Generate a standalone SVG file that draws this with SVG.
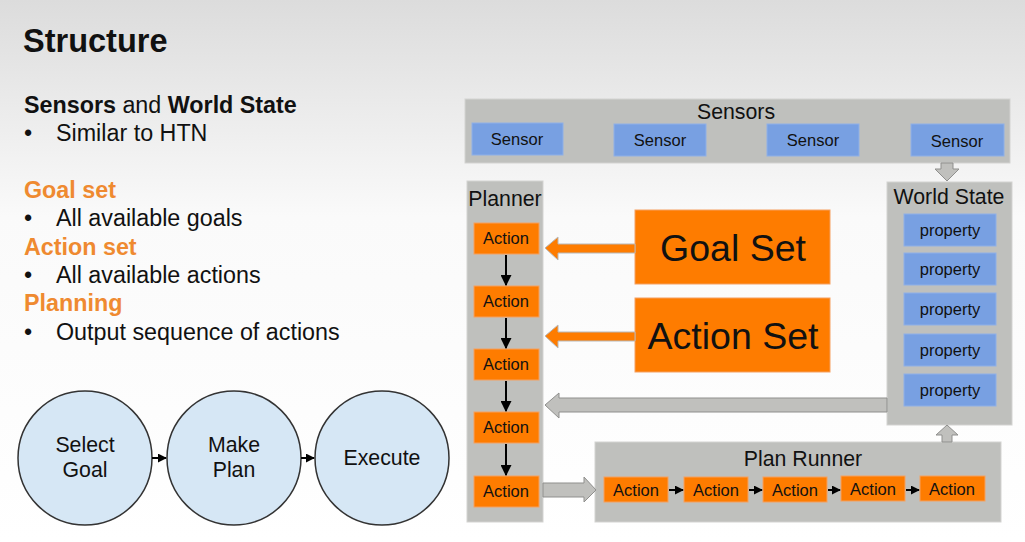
<svg xmlns="http://www.w3.org/2000/svg" width="1025" height="542" viewBox="0 0 1025 542">
<defs>
<linearGradient id="bg" x1="0" y1="0" x2="0" y2="1">
<stop offset="0" stop-color="#dcdcdc"/>
<stop offset="0.4" stop-color="#fafafa"/>
<stop offset="1" stop-color="#ffffff"/>
</linearGradient>
<marker id="ah" viewBox="0 0 10 10" refX="9" refY="5" markerWidth="4.5" markerHeight="4.5" orient="auto">
<path d="M0,0 L10,5 L0,10 z" fill="#000"/>
</marker>
<marker id="ahb" viewBox="0 0 10 10" refX="9" refY="5" markerWidth="5.5" markerHeight="5.5" orient="auto">
<path d="M0,0 L10,5 L0,10 z" fill="#000"/>
</marker>
<style>
text{font-family:"Liberation Sans",Arial,sans-serif;fill:#111}
.panel{fill:#bfc0bd;stroke:#d3d3d1;stroke-width:1}
.blue{fill:#78a0e2;stroke:#8fb0e8;stroke-width:1}
.org{fill:#fe7c00;stroke:#f5a060;stroke-width:1}
.circ{fill:#d6e7f5;stroke:#333;stroke-width:1.5}
.t14{font-size:16.5px;text-anchor:middle}
.t20{font-size:21.3px;text-anchor:middle}
.big{font-size:37.5px;text-anchor:middle}
.conn{stroke:#000;stroke-width:2;fill:none;marker-end:url(#ah)}
.connb{stroke:#000;stroke-width:2;fill:none;marker-end:url(#ahb)}
.garr{fill:#c0c0bd;stroke:#8f8f8d;stroke-width:1}
.oarr{fill:#fe7c00;stroke:#b8b8b8;stroke-width:1}
.lt{font-size:23.3px}
.hd{font-size:23.3px;font-weight:bold;fill:#ef8a30}
</style>
</defs>
<rect width="1025" height="542" fill="url(#bg)"/>
<g id="text-left">
<text x="23" y="52" style="font-size:32.5px;font-weight:bold">Structure</text>
<text x="24" y="113" class="lt"><tspan font-weight="bold">Sensors</tspan> and <tspan font-weight="bold">World State</tspan></text>
<text x="24" y="141" class="lt">•</text><text x="56" y="141" class="lt">Similar to HTN</text>
<text x="24" y="198" class="hd">Goal set</text>
<text x="24" y="226" class="lt">•</text><text x="56" y="226" class="lt">All available goals</text>
<text x="24" y="255" class="hd">Action set</text>
<text x="24" y="283" class="lt">•</text><text x="56" y="283" class="lt">All available actions</text>
<text x="24" y="311" class="hd">Planning</text>
<text x="24" y="340" class="lt">•</text><text x="56" y="340" class="lt">Output sequence of actions</text>
</g>
<g id="sensors">
<rect x="465" y="99" width="545" height="64" class="panel"/>
<text x="736" y="119" class="t20">Sensors</text>
<rect x="472" y="123" width="91" height="32" class="blue"/><text x="517" y="145" class="t14">Sensor</text>
<rect x="614" y="124" width="92" height="32" class="blue"/><text x="660" y="146" class="t14">Sensor</text>
<rect x="767" y="124" width="92" height="32" class="blue"/><text x="813" y="146" class="t14">Sensor</text>
<rect x="911" y="124" width="93" height="32" class="blue"/><text x="957" y="147" class="t14">Sensor</text>
</g>
<g id="world-state">
<rect x="887" y="182" width="125" height="243" class="panel"/>
<text x="949" y="204" class="t20">World State</text>
<rect x="904" y="214" width="92" height="32" class="blue"/><text x="950" y="236" class="t14">property</text>
<rect x="904" y="253" width="92" height="32" class="blue"/><text x="950" y="275" class="t14">property</text>
<rect x="904" y="293" width="92" height="32" class="blue"/><text x="950" y="315" class="t14">property</text>
<rect x="904" y="334" width="92" height="32" class="blue"/><text x="950" y="356" class="t14">property</text>
<rect x="904" y="374" width="92" height="32" class="blue"/><text x="950" y="396" class="t14">property</text>
</g>
<g id="planner">
<rect x="467" y="181" width="76" height="341" class="panel"/>
<text x="505" y="206" class="t20">Planner</text>
<rect x="474" y="223" width="65" height="31" class="org"/><text x="506" y="244" class="t14">Action</text>
<rect x="474" y="286" width="65" height="31" class="org"/><text x="506" y="307" class="t14">Action</text>
<rect x="474" y="349" width="65" height="31" class="org"/><text x="506" y="370" class="t14">Action</text>
<rect x="474" y="412" width="65" height="31" class="org"/><text x="506" y="433" class="t14">Action</text>
<rect x="474" y="476" width="65" height="31" class="org"/><text x="506" y="497" class="t14">Action</text>
</g>
<g id="goal-set">
<rect x="635" y="210" width="195" height="74" class="org"/>
<text x="733" y="261" class="big">Goal Set</text>
</g>
<g id="action-set">
<rect x="635" y="298" width="195" height="74" class="org"/>
<text x="733" y="349" class="big">Action Set</text>
</g>
<g id="plan-runner">
<rect x="595" y="442" width="406" height="80" class="panel"/>
<text x="803" y="466" class="t20">Plan Runner</text>
<rect x="604" y="477" width="64" height="25" class="org"/><text x="636" y="496" class="t14">Action</text>
<rect x="684" y="477" width="64" height="25" class="org"/><text x="716" y="496" class="t14">Action</text>
<rect x="763" y="477" width="64" height="25" class="org"/><text x="795" y="496" class="t14">Action</text>
<rect x="841" y="476" width="64" height="25" class="org"/><text x="873" y="495" class="t14">Action</text>
<rect x="920" y="476" width="65" height="25" class="org"/><text x="952" y="495" class="t14">Action</text>
</g>
<g id="select-goal">
<circle cx="85" cy="458" r="67" class="circ"/>
<text x="85" y="452" class="t20">Select</text><text x="85" y="477" class="t20">Goal</text>
</g>
<g id="make-plan">
<circle cx="234" cy="458" r="67" class="circ"/>
<text x="234" y="452" class="t20">Make</text><text x="234" y="477" class="t20">Plan</text>
</g>
<g id="execute">
<circle cx="382" cy="458" r="67" class="circ"/>
<text x="382" y="465" class="t20">Execute</text>
</g>
<g id="connectors">
<line x1="152" y1="458" x2="166" y2="458" class="conn"/>
<line x1="301" y1="458" x2="314" y2="458" class="conn"/>
<line x1="506" y1="255" x2="506" y2="285" class="connb"/>
<line x1="506" y1="318" x2="506" y2="348" class="connb"/>
<line x1="506" y1="381" x2="506" y2="411" class="connb"/>
<line x1="506" y1="444" x2="506" y2="475" class="connb"/>
<line x1="669" y1="490" x2="683" y2="490" class="conn"/>
<line x1="749" y1="490" x2="762" y2="490" class="conn"/>
<line x1="828" y1="490" x2="840" y2="490" class="conn"/>
<line x1="906" y1="490" x2="919" y2="490" class="conn"/>
<polygon points="545,248 558,237 558,244 635,244 635,253 558,253 558,260" class="oarr"/>
<polygon points="545,336 558,325 558,332 635,332 635,341 558,341 558,348" class="oarr"/>
<polygon points="545,405 559,393 559,398 887,398 887,412 559,412 559,418" class="garr"/>
<polygon points="543,483 584,483 584,477 596,490 584,502 584,497 543,497" class="garr"/>
<polygon points="941,163 953,163 953,169 959,169 947,181 935,169 941,169" class="garr"/>
<polygon points="947,425 958,435 952,435 952,442 942,442 942,435 936,435" class="garr"/>
</g>
</svg>
